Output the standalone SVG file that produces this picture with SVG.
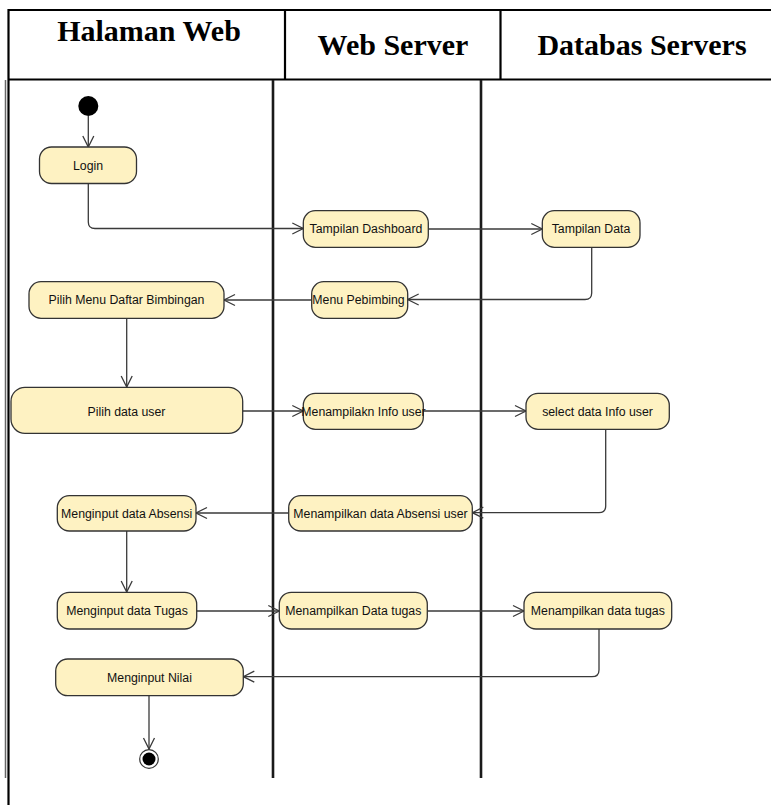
<svg xmlns="http://www.w3.org/2000/svg" width="771" height="805" viewBox="0 0 771 805">
<defs>
<style>
.hdr{font-family:"Liberation Serif","Times New Roman",serif;font-weight:bold;font-size:30px;fill:#000;text-anchor:middle}
.act rect{fill:#FEF2C2;stroke:#333;stroke-width:1.3}
.act text{font-family:"Liberation Sans",Arial,sans-serif;font-size:12.3px;fill:#111;text-anchor:middle}
.tbl{stroke:#000;stroke-width:2.2;fill:none}
.lane{stroke:#1a1a1a;stroke-width:2.6}
.conn path{fill:none;stroke:#3a3a3a;stroke-width:1.3;marker-end:url(#arr)}
</style>
<marker id="arr" markerUnits="userSpaceOnUse" markerWidth="14" markerHeight="14" viewBox="0 0 14 14" refX="12" refY="7" orient="auto">
<path d="M1,1.5 L12,7 L1,12.5" fill="none" stroke="#3a3a3a" stroke-width="1.3"/>
</marker>
</defs>
<rect width="771" height="805" fill="#fff"/>
<g id="table">
<line class="tbl" x1="8.5" y1="10" x2="771" y2="10"/>
<line class="tbl" x1="8.5" y1="79.5" x2="771" y2="79.5"/>
<line class="tbl" x1="8.5" y1="9" x2="8.5" y2="805"/>
<line class="tbl" x1="285" y1="10" x2="285" y2="80"/>
<line class="tbl" x1="500.5" y1="10" x2="500.5" y2="80"/>
<line x1="5.5" y1="80" x2="5.5" y2="778" stroke="#666" stroke-width="1.5"/>
<line class="lane" x1="273" y1="80" x2="273" y2="778"/>
<line class="lane" x1="481" y1="80" x2="481" y2="778"/>
<text class="hdr" x="149" y="41">Halaman Web</text>
<text class="hdr" x="393" y="55">Web Server</text>
<text class="hdr" x="642" y="55">Databas Servers</text>
</g>
<g id="connectors" class="conn">
<path d="M88.3,116 V147"/>
<path d="M88.3,183.5 V222 Q88.3,228.5 95,228.5 H303.3"/>
<path d="M428.3,229 H542.3"/>
<path d="M591.7,247.3 V293 Q591.7,299.5 585,299.5 H407.7"/>
<path d="M311.7,300 H224"/>
<path d="M126.7,318.3 V387"/>
<path d="M242.7,411 H303.3"/>
<path d="M423.3,411 H526"/>
<path d="M605.7,429.3 V506 Q605.7,512.7 599,512.7 H472.3"/>
<path d="M288.7,513 H196"/>
<path d="M126.7,531 V592"/>
<path d="M196.7,611 H279.3"/>
<path d="M427.3,611 H524"/>
<path d="M599,629 V670 Q599,676.7 592,676.7 H243.3"/>
<path d="M149,695.7 V749"/>
</g>
<g id="start"><circle cx="88.3" cy="106" r="10" fill="#000"/></g>
<g id="login" class="act"><rect x="39.5" y="147" width="97" height="36.5" rx="12"/><text x="88" y="169.5">Login</text></g>
<g id="tampilan-dashboard" class="act"><rect x="303.3" y="210.7" width="125" height="36.6" rx="12"/><text x="366" y="233.3">Tampilan Dashboard</text></g>
<g id="tampilan-data" class="act"><rect x="542.3" y="210.7" width="97.7" height="36.6" rx="12"/><text x="591" y="233.3">Tampilan Data</text></g>
<g id="menu-pebimbing" class="act"><rect x="311.7" y="281.7" width="96" height="36.6" rx="12"/><text x="358.5" y="304.3">Menu Pebimbing</text></g>
<g id="pilih-menu" class="act"><rect x="29" y="281.7" width="195" height="36.6" rx="12"/><text x="126.5" y="304.3">Pilih Menu Daftar Bimbingan</text></g>
<g id="pilih-data-user" class="act"><rect x="11" y="387.3" width="231.7" height="46" rx="14"/><text x="126.5" y="415.8">Pilih data user</text></g>
<g id="menampilakn-info-user" class="act"><rect x="303.3" y="393.3" width="120" height="36" rx="12"/><text x="363.5" y="415.5">Menampilakn Info user</text></g>
<g id="select-data-info-user" class="act"><rect x="526" y="393.3" width="143.3" height="36" rx="12"/><text x="597.5" y="415.5">select data Info user</text></g>
<g id="menampilkan-absensi" class="act"><rect x="288.7" y="495.7" width="183.6" height="35.3" rx="12"/><text x="380.5" y="517.5">Menampilkan data Absensi user</text></g>
<g id="menginput-absensi" class="act"><rect x="57.3" y="495.7" width="138.7" height="35.3" rx="12"/><text x="126.7" y="517.5">Menginput data Absensi</text></g>
<g id="menginput-tugas" class="act"><rect x="57.3" y="592.3" width="139.4" height="36.7" rx="12"/><text x="127" y="615.3">Menginput data Tugas</text></g>
<g id="menampilkan-data-tugas-ws" class="act"><rect x="279.3" y="592.3" width="148" height="36.7" rx="12"/><text x="353.3" y="615.3">Menampilkan Data tugas</text></g>
<g id="menampilkan-data-tugas-db" class="act"><rect x="524" y="592.3" width="147.7" height="36.7" rx="12"/><text x="597.8" y="615.3">Menampilkan data tugas</text></g>
<g id="menginput-nilai" class="act"><rect x="55.7" y="659" width="187.6" height="36.7" rx="12"/><text x="149.5" y="681.5">Menginput Nilai</text></g>
<g id="end"><circle cx="149" cy="759" r="9.3" fill="#fff" stroke="#333" stroke-width="1.2"/><circle cx="149" cy="759" r="6.5" fill="#000"/></g>
</svg>
